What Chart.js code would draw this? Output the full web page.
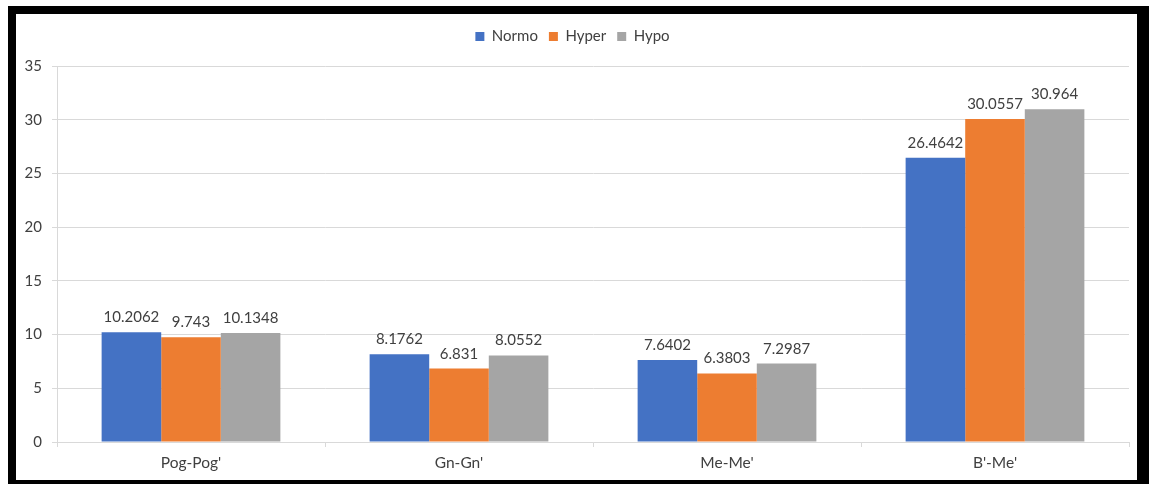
<!DOCTYPE html>
<html>
<head>
<meta charset="utf-8">
<script src="https://cdn.jsdelivr.net/npm/chart.js@4.4.1/dist/chart.umd.min.js"></script>
<style>
  html, body { margin: 0; padding: 0; background: #ffffff; }
  body { width: 1149px; height: 484px; position: relative; overflow: hidden; }
  #frame {
    position: absolute; left: 8px; top: 6px;
    border-style: solid; border-color: #000000;
    border-width: 8px 12px 4px 8px;
    width: 1121px; height: 466px; background: #ffffff;
  }
  canvas { display: block; }
</style>
</head>
<body>
<div id="frame"><canvas id="chart" width="1121" height="466"></canvas></div>
<script>
// Soft-tissue thickness by facial type
const categories = ["Pog-Pog'", "Gn-Gn'", "Me-Me'", "B'-Me'"];
const normo = [10.2062, 8.1762, 7.6402, 26.4642];
const hyper = [9.743, 6.831, 6.3803, 30.0557];
const hypo = [10.1348, 8.0552, 7.2987, 30.964];
const yTicks = [0, 5, 10, 15, 20, 25, 30, 35];

const FONT = "Lato, 'Open Sans', sans-serif";

// Value labels printed above each bar
const valueLabels = {
  id: 'valueLabels',
  afterDatasetsDraw(chart) {
    const ctx = chart.ctx;
    ctx.save();
    ctx.font = "15px " + FONT;
    ctx.fillStyle = '#404040';
    ctx.textAlign = 'center';
    ctx.textBaseline = 'alphabetic';
    chart.data.datasets.forEach((ds, i) => {
      chart.getDatasetMeta(i).data.forEach((bar, j) => {
        ctx.fillText(String(ds.data[j]), bar.x, bar.y - 10);
      });
    });
    ctx.restore();
  }
};

// Extra room under the legend before the plot starts
const legendGap = {
  id: 'legendGap',
  beforeInit(chart) {
    const origFit = chart.legend.fit;
    chart.legend.fit = function () {
      origFit.bind(chart.legend)();
      this.height += 12;
    };
  }
};

new Chart(document.getElementById('chart'), {
  type: 'bar',
  data: {
    labels: categories,
    datasets: [
      { label: 'Normo', data: normo, backgroundColor: '#4472C4' },
      { label: 'Hyper', data: hyper, backgroundColor: '#ED7D31' },
      { label: 'Hypo', data: hypo, backgroundColor: '#A5A5A5' }
    ]
  },
  options: {
    responsive: false,
    animation: false,
    devicePixelRatio: 1,
    categoryPercentage: 0.667,
    barPercentage: 1.0,
    layout: { padding: { top: 4, right: 8, left: 0, bottom: 0 } },
    plugins: {
      tooltip: { enabled: false },
      legend: {
        position: 'top',
        labels: {
          boxWidth: 9, boxHeight: 9, padding: 11,
          color: '#404040',
          font: { family: FONT, size: 15 }
        }
      }
    },
    scales: {
      x: {
        grid: { display: true, drawOnChartArea: false, drawTicks: true, tickLength: 5, offset: true, color: '#d9d9d9' },
        border: { display: true, color: '#d9d9d9' },
        ticks: { color: '#404040', font: { family: FONT, size: 15.5 }, padding: 7 },
        afterFit(scale) { scale.height = 38; }
      },
      y: {
        min: 0, max: 35,
        afterBuildTicks(scale) { scale.ticks = yTicks.map(v => ({ value: v })); },
        grid: { color: '#d9d9d9', drawTicks: true, tickLength: 5 },
        border: { display: true, color: '#d9d9d9' },
        ticks: { color: '#404040', font: { family: FONT, size: 15 }, padding: 10 },
        afterFit(scale) { scale.width = 41; }
      }
    }
  },
  plugins: [valueLabels, legendGap]
});
</script>
</body>
</html>
